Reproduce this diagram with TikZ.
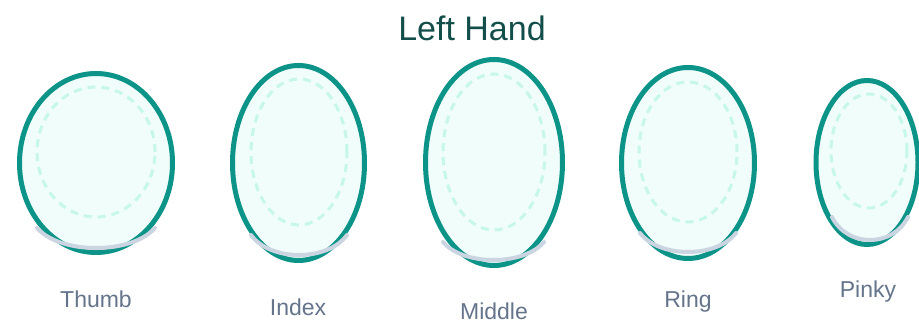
\documentclass[tikz,border=0pt]{standalone}
\usepackage{fontspec}
\setmainfont{Liberation Sans}
\usepackage{tikz}
\usetikzlibrary{shapes.geometric}

\definecolor{tealline}{HTML}{0D9488}
\definecolor{tealfill}{HTML}{F0FDFA}
\definecolor{mintdash}{HTML}{C6F7E9}
\definecolor{nailgrey}{HTML}{CBD5E1}
\definecolor{labelgrey}{HTML}{64748B}
\definecolor{titleteal}{HTML}{134E4A}

\begin{document}
\begin{tikzpicture}[
  x=1pt, y=1pt,
  pad/.style={ellipse, draw=tealline, fill=tealfill, line width=5pt, inner sep=0pt},
  core/.style={ellipse, draw=mintdash, line width=3pt, dash pattern=on 8pt off 6pt, inner sep=0pt},
  tip/.style={draw=nailgrey, line width=4pt, line cap=round},
  fname/.style={text=labelgrey, font=\fontsize{23}{27}\selectfont},
  heading/.style={text=titleteal, font=\fontsize{34}{40}\selectfont}
]
\useasboundingbox (0,0) rectangle (919,328);

\node[heading] (title) at (472,300) {Left Hand};

% finger pads
\node[pad, minimum width=153pt, minimum height=179pt] (thumb) at (96,165) {};
\node[pad, minimum width=132pt, minimum height=195pt] (index) at (298.5,165) {};
\node[pad, minimum width=137pt, minimum height=206pt] (middle) at (494,165.5) {};
\node[pad, minimum width=133pt, minimum height=191pt] (ring) at (688,165) {};
\node[pad, minimum width=102pt, minimum height=164pt] (pinky) at (867,165.5) {};

% dashed inner zones
\node[core, minimum width=118pt, minimum height=130pt] (thumb-core) at (96,176) {};
\node[core, minimum width=96pt, minimum height=146pt] (index-core) at (299,176) {};
\node[core, minimum width=102pt, minimum height=156pt] (middle-core) at (494,176) {};
\node[core, minimum width=98pt, minimum height=140pt] (ring-core) at (688,176) {};
\node[core, minimum width=76pt, minimum height=114pt] (pinky-core) at (869,177) {};

% nail edges
\draw[tip] (37,100) .. controls (60.6,73.3) and (131.4,73.3) .. (155,100);
\draw[tip] (251,93) .. controls (270.2,66.3) and (327.8,66.3) .. (347,93);
\draw[tip] (443,86) .. controls (463.2,62) and (523.8,62) .. (544,86);
\draw[tip] (640,95) .. controls (659.2,69.7) and (716.8,69.7) .. (736,95);
\draw[tip] (832,111) .. controls (847.2,80.3) and (892.8,80.3) .. (908,111);

% labels
\node[fname] (thumb-label) at (96,29) {Thumb};
\node[fname] (index-label) at (298,21) {Index};
\node[fname] (middle-label) at (494,17) {Middle};
\node[fname] (ring-label) at (688,26) {Ring};
\node[fname] (pinky-label) at (868,36) {Pinky};
\end{tikzpicture}
\end{document}
